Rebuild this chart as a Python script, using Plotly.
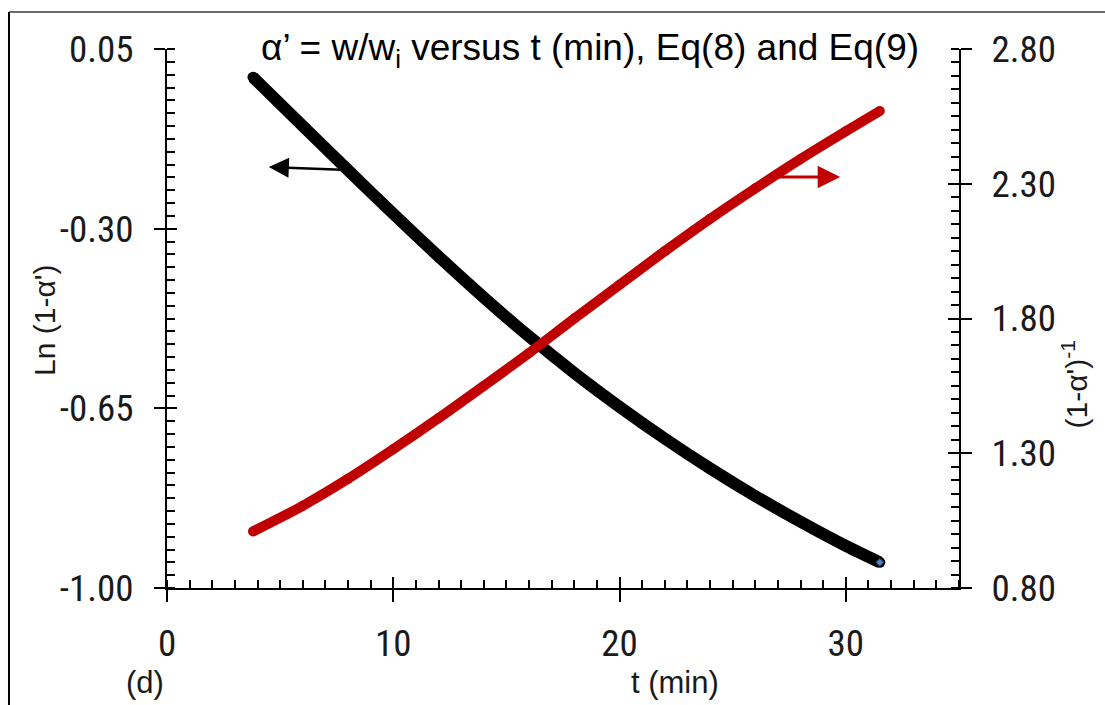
import plotly.graph_objects as go

# ---- data ----
t_ln = [3.8, 6.0, 8.0, 10.0, 12.0, 14.0, 16.0, 18.0, 20.0, 22.0, 24.0, 26.0, 28.0, 30.0, 31.5]
ln_vals = [-0.005, -0.100, -0.186, -0.271, -0.354, -0.434, -0.510, -0.581, -0.647,
           -0.709, -0.767, -0.821, -0.871, -0.918, -0.950]

t_inv = [3.8, 6.0, 8.0, 10.0, 12.0, 14.0, 16.0, 18.0, 20.0, 22.0, 24.0, 26.0, 28.0, 30.0, 31.5]
inv_vals = [1.01, 1.105, 1.205, 1.315, 1.43, 1.55, 1.672, 1.80, 1.925, 2.05, 2.17, 2.283,
            2.392, 2.495, 2.57]

x_ticks = [0, 10, 20, 30]
yl_ticks = [0.05, -0.30, -0.65, -1.00]
yr_ticks = [0.80, 1.30, 1.80, 2.30, 2.80]

title_text = "α’ = w/w<sub>i</sub> versus t (min), Eq(8) and Eq(9)"

# arrows (head, tail)
black_arrow = dict(x=4.5, y=-0.180, ax=8.1, ay=-0.186)
red_arrow = dict(x=29.75, y=2.325, ax=26.8, ay=2.325)

RED = "#C00000"
NARROW = "Liberation Sans Narrow, Arial Narrow, Roboto Condensed, DejaVu Sans Condensed, Liberation Sans, sans-serif"
REG = "Liberation Sans, Arial, sans-serif"

fig = go.Figure()
fig.add_trace(go.Scatter(x=t_ln, y=ln_vals, mode="lines+markers",
                         line=dict(color="black", width=12, shape="spline", smoothing=0.8),
                         marker=dict(color="black", size=11),
                         xaxis="x", yaxis="y", showlegend=False, hoverinfo="skip"))
fig.add_trace(go.Scatter(x=t_inv, y=inv_vals, mode="lines+markers",
                         line=dict(color=RED, width=10, shape="spline", smoothing=0.8),
                         marker=dict(color=RED, size=10),
                         xaxis="x", yaxis="y2", showlegend=False, hoverinfo="skip"))
fig.add_trace(go.Scatter(x=[t_ln[-1]], y=[ln_vals[-1]], mode="markers",
                         marker=dict(symbol="diamond", size=6, color="#4F81BD",
                                     line=dict(color="#1F3F6F", width=1)),
                         xaxis="x", yaxis="y", showlegend=False, hoverinfo="skip"))
# empty traces to activate overlay axes used for crossing major ticks
fig.add_trace(go.Scatter(x=[], y=[], xaxis="x3", yaxis="y3", showlegend=False))
fig.add_trace(go.Scatter(x=[], y=[], xaxis="x", yaxis="y4", showlegend=False))

tickfont = dict(family=NARROW, size=37, color="#1a1a1a")

fig.update_layout(
    width=1105, height=705,
    margin=dict(l=167, r=146, t=49, b=117),
    paper_bgcolor="white", plot_bgcolor="white",
    showlegend=False,
    xaxis=dict(range=[0, 35], tickvals=x_ticks, ticktext=[str(v) for v in x_ticks],
               ticks="outside", ticklen=12, tickwidth=2, tickcolor="black",
               showline=True, linewidth=2, linecolor="black", showgrid=False, zeroline=False,
               tickfont=tickfont, ticklabelstandoff=10,
               minor=dict(dtick=1, tick0=0, ticks="inside", ticklen=8, tickwidth=2,
                          tickcolor="black", showgrid=False),
               anchor="y"),
    xaxis3=dict(range=[0, 35], overlaying="x", anchor="y", tickvals=x_ticks,
                ticks="inside", ticklen=11, tickwidth=2, tickcolor="black",
                showticklabels=False, showline=False, showgrid=False, zeroline=False),
    yaxis=dict(range=[-1.00, 0.05], tickvals=yl_ticks, ticktext=[f"{v:.2f}" for v in yl_ticks],
               ticks="outside", ticklen=11, tickwidth=2, tickcolor="black",
               showline=True, linewidth=2, linecolor="black", showgrid=False, zeroline=False,
               tickfont=tickfont, ticklabelstandoff=13,
               minor=dict(dtick=0.025, tick0=0.05, ticks="inside", ticklen=8, tickwidth=2,
                          tickcolor="black", showgrid=False),
               anchor="x"),
    yaxis3=dict(range=[-1.00, 0.05], overlaying="y", anchor="x3", tickvals=yl_ticks,
                ticks="inside", ticklen=10, tickwidth=2, tickcolor="black",
                showticklabels=False, showline=False, showgrid=False, zeroline=False),
    yaxis2=dict(range=[0.80, 2.80], overlaying="y", side="right", anchor="x",
                tickvals=yr_ticks, ticktext=[f"{v:.2f}" for v in yr_ticks],
                ticks="outside", ticklen=11, tickwidth=2, tickcolor="black",
                showline=True, linewidth=2, linecolor="black", showgrid=False, zeroline=False,
                tickfont=tickfont, ticklabelstandoff=12,
                minor=dict(dtick=0.05, tick0=0.80, ticks="inside", ticklen=8, tickwidth=2,
                           tickcolor="black", showgrid=False)),
    yaxis4=dict(range=[0.80, 2.80], overlaying="y", side="right", anchor="x",
                tickvals=yr_ticks, ticks="inside", ticklen=11, tickwidth=2, tickcolor="black",
                showticklabels=False, showline=False, showgrid=False, zeroline=False),
)

annotations = [
    dict(text=title_text, xref="paper", yref="paper", x=0.534, y=0.998,
         xanchor="center", yanchor="middle", showarrow=False,
         font=dict(family=REG, size=37, color="black")),
    dict(text="Ln (1-α')", xref="paper", yref="paper", x=-0.155, y=0.496,
         xanchor="center", yanchor="middle", textangle=-90, showarrow=False,
         font=dict(family=REG, size=30, color="#1a1a1a")),
    dict(text="(1-α')<sup>-1</sup>", xref="paper", yref="paper", x=1.146, y=0.377,
         xanchor="center", yanchor="middle", textangle=-90, showarrow=False,
         font=dict(family=REG, size=30, color="#1a1a1a")),
    dict(text="t (min)", xref="paper", yref="paper", x=0.641, y=-0.176,
         xanchor="center", yanchor="middle", showarrow=False,
         font=dict(family=REG, size=31, color="#1a1a1a")),
    dict(text="(d)", xref="paper", yref="paper", x=-0.028, y=-0.176,
         xanchor="center", yanchor="middle", showarrow=False,
         font=dict(family=REG, size=31, color="#1a1a1a")),
    dict(text="", xref="x", yref="y", axref="x", ayref="y", showarrow=True,
         arrowhead=2, arrowsize=1.6, arrowwidth=2.5, arrowcolor="black", **black_arrow),
    dict(text="", xref="x", yref="y2", axref="x", ayref="y2", showarrow=True,
         arrowhead=2, arrowsize=1.5, arrowwidth=3, arrowcolor=RED, **red_arrow),
]
fig.update_layout(annotations=annotations)

# outer frame (top grey line, left black line)
fig.update_layout(shapes=[
    dict(type="line", xref="paper", yref="paper", x0=-0.1995, x1=1.2, y0=1.0686, y1=1.0686,
         line=dict(color="#6d6d6d", width=2)),
    dict(type="line", xref="paper", yref="paper", x0=-0.1995, x1=-0.1995, y0=1.0686, y1=-0.25,
         line=dict(color="black", width=2)),
])

fig.write_html("out.html")
